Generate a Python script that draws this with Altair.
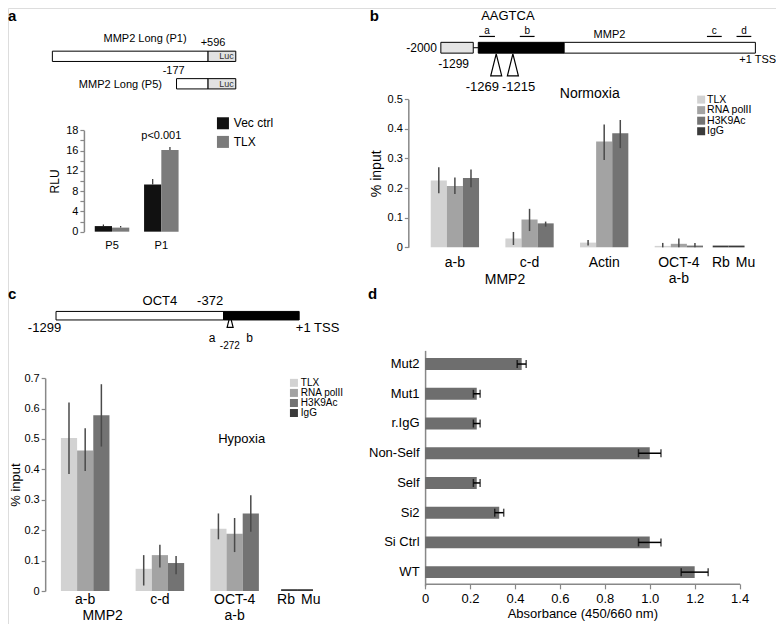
import altair as alt
import pandas as pd

W, H = 768, 616
FONT = "Liberation Sans"


def px(x):
    return (x - 3) * 0.986


def py(y):
    return (y - 3) * 0.981


# ---------------- data ----------------
# panel a: luciferase reporter
a_groups = ["P5", "P1"]
a_series = ["Vec ctrl", "TLX"]
a_vec = [1.1, 9.3]
a_vec_err = [0.3, 1.1]
a_tlx = [0.8, 16.1]
a_tlx_err = [0.3, 0.6]
a_ticks = [0, 2, 4, 6, 8, 10, 12, 14, 16, 18, 20]
a_colors = ["#111111", "#7b7b7b"]
a_constructs = ["P1", "P5"]
a_prom_start = [0.0, 67.7]
a_prom_end = [84.9, 84.9]
a_luc_end = [100.0, 100.0]

# panels b / c: ChIP
chip_series = ["TLX", "RNA polII", "H3K9Ac", "IgG"]
chip_colors = ["#d2d2d2", "#a3a3a3", "#737373", "#3a3a3a"]

b_groups = ["a-b", "c-d", "Actin", "OCT-4 a-b"]
b_tlx = [0.226, 0.030, 0.016, 0.005]
b_tlx_lo = [0.183, 0.008, 0.006, 0.000]
b_tlx_hi = [0.270, 0.052, 0.025, 0.015]
b_rna = [0.207, 0.094, 0.357, 0.012]
b_rna_lo = [0.180, 0.055, 0.295, 0.000]
b_rna_hi = [0.236, 0.130, 0.415, 0.030]
b_h3 = [0.234, 0.081, 0.385, 0.006]
b_h3_lo = [0.203, 0.070, 0.335, 0.000]
b_h3_hi = [0.263, 0.087, 0.430, 0.015]
b_ctrl = ["Rb", "Mu"]
b_igg = [0.006, 0.006]
b_ticks = [0, 0.1, 0.2, 0.3, 0.4, 0.5]
b_segments = ["distal", "core", "proximal"]
b_seg_start = [0.0, 11.9, 39.2]
b_seg_end = [10.3, 39.2, 100.0]
b_seg_fill = ["#e4e4e4", "#000000", "#ffffff"]
b_link = [10.3, 11.9]
b_primers = ["a", "b", "c", "d"]
b_primer_start = [12.2, 25.1, 84.6, 94.0]
b_primer_end = [17.2, 29.8, 89.3, 98.7]
b_sites = ["-1269", "-1215"]
b_site_pos = [17.6, 22.9]

c_groups = ["a-b", "c-d", "OCT-4 a-b"]
c_tlx = [0.503, 0.073, 0.205]
c_tlx_lo = [0.385, 0.018, 0.170]
c_tlx_hi = [0.620, 0.118, 0.255]
c_rna = [0.462, 0.118, 0.188]
c_rna_lo = [0.395, 0.077, 0.128]
c_rna_hi = [0.535, 0.152, 0.240]
c_h3 = [0.578, 0.092, 0.255]
c_h3_lo = [0.475, 0.055, 0.195]
c_h3_hi = [0.680, 0.115, 0.315]
c_ctrl = ["Rb", "Mu"]
c_igg = [0.006, 0.006]
c_ticks = [0, 0.1, 0.2, 0.3, 0.4, 0.5, 0.6, 0.7]
c_segments = ["upstream", "proximal"]
c_seg_start = [0.0, 68.9]
c_seg_end = [68.9, 100.0]
c_seg_fill = ["#ffffff", "#000000"]
c_site_pos = [71.6]

# panel d: absorbance
d_cats = ["Mut2", "Mut1", "r.IgG", "Non-Self", "Self", "Si2", "Si Ctrl", "WT"]
d_vals = [0.43, 0.23, 0.23, 1.00, 0.23, 0.33, 1.00, 1.20]
d_err = [0.02, 0.015, 0.015, 0.05, 0.015, 0.02, 0.05, 0.06]
d_ticks = [0, 0.2, 0.4, 0.6, 0.8, 1.0, 1.2, 1.4]

TRI = "M0,-1L0.5,1L-0.5,1Z"


# ---------------- helpers ----------------
def label(text, x, y, size=12, align="center", weight="normal", baseline="alphabetic", color="black"):
    return alt.Chart(pd.DataFrame({"t": [text]})).mark_text(
        align=align, baseline=baseline, fontSize=size, fontWeight=weight, font=FONT, color=color
    ).encode(x=alt.value(px(x)), y=alt.value(py(y)), text="t:N")


def chip_df(groups, data):
    rows = []
    for s, (v, lo, hi) in data.items():
        for g, vv, l, h in zip(groups, v, lo, hi):
            rows.append({"group": g, "series": s, "value": vv, "lo": l, "hi": h})
    return pd.DataFrame(rows)


def y_axis(axis_x, ticks, title, fmt_expr, label_size=11, title_size=14, title_pad=4):
    return alt.Axis(
        orient="left", offset=-px(axis_x), values=ticks, labelExpr=fmt_expr,
        tickSize=4, tickWidth=1.2, domainWidth=1.5, labelFontSize=label_size, labelPadding=2,
        title=title, titleFontSize=title_size, titleFontWeight="normal", titlePadding=title_pad,
        grid=False, labelFlush=False, labelOverlap=False,
    )


def chip_members(df, groups, ctrl, igg, x_range, pi, po, ctrl_range, y_dom, y_rng,
                 axis_x, ticks, label_y, label_size, line_h=16, title_size=14, title_pad=4,
                 err_color="#4a4a4a"):
    xs = alt.Scale(domain=groups, range=x_range, paddingInner=pi, paddingOuter=po)
    ys = alt.Scale(domain=y_dom, range=y_rng, nice=False)
    xo = alt.XOffset("series:N", sort=chip_series[:3], scale=alt.Scale(domain=chip_series[:3]))
    col = alt.Color("series:N", scale=alt.Scale(domain=chip_series, range=chip_colors), legend=None)
    bars = alt.Chart(df).mark_bar().encode(
        x=alt.X("group:N", sort=groups, scale=xs, axis=None),
        xOffset=xo,
        y=alt.Y("value:Q", scale=ys,
                axis=y_axis(axis_x, ticks, "% input",
                            "datum.value == 0 ? '0' : format(datum.value, '.1f')",
                            title_size=title_size, title_pad=title_pad)),
        color=col,
    )
    labs = alt.Chart(pd.DataFrame({"group": groups})).mark_text(
        lineBreak=" ", fontSize=label_size, font=FONT, baseline="alphabetic", lineHeight=line_h, color="black"
    ).encode(x=alt.X("group:N", sort=groups, scale=xs, axis=None), y=alt.value(py(label_y)), text="group:N")
    errs = alt.Chart(df).mark_rule(color=err_color, strokeWidth=1.5).encode(
        x=alt.X("group:N", sort=groups, scale=xs, axis=None),
        xOffset=xo,
        y=alt.Y("lo:Q", scale=ys, axis=None),
        y2="hi:Q",
    )
    ctrl_df = pd.DataFrame({"group": ctrl, "value": igg})
    ctrl_bars = alt.Chart(ctrl_df).mark_bar(color=chip_colors[3]).encode(
        x=alt.X("group:N", sort=ctrl, scale=alt.Scale(domain=ctrl, range=ctrl_range, paddingInner=0, paddingOuter=0), axis=None),
        y=alt.Y("value:Q", scale=ys, axis=None),
    )
    return [alt.layer(bars, labs), errs, ctrl_bars]


def chip_legend(x_sq, x_txt, r0, r1, sq, size):
    leg = pd.DataFrame({"series": chip_series})
    ly = alt.Y("series:N", sort=chip_series,
               scale=alt.Scale(type="point", domain=chip_series, range=[py(r0), py(r1)], padding=0.5), axis=None)
    squares = alt.Chart(leg).mark_square(size=sq * sq, opacity=1).encode(
        x=alt.value(px(x_sq)), y=ly,
        color=alt.Color("series:N", scale=alt.Scale(domain=chip_series, range=chip_colors), legend=None),
    )
    texts = alt.Chart(leg).mark_text(align="left", baseline="middle", fontSize=size, font=FONT, color="black").encode(
        x=alt.value(px(x_txt)), y=ly, text="series:N"
    )
    return alt.layer(squares, texts)


members = []

# ---------------- panel a ----------------
a_df = pd.DataFrame({
    "group": a_groups * 2,
    "series": [a_series[0]] * 2 + [a_series[1]] * 2,
    "value": a_vec + a_tlx,
    "err": a_vec_err + a_tlx_err,
})
a_df["hi"] = a_df["value"] + a_df["err"]
a_xs = alt.Scale(domain=a_groups, range=[px(83.5), px(183.5)], paddingInner=0.3, paddingOuter=0.15)
a_ys = alt.Scale(domain=[0, 20], range=[py(231), py(127.6)], nice=False)
a_xo = alt.XOffset("series:N", sort=a_series, scale=alt.Scale(domain=a_series))
a_bars = alt.Chart(a_df).mark_bar().encode(
    x=alt.X("group:N", sort=a_groups, scale=a_xs, axis=None),
    xOffset=a_xo,
    y=alt.Y("value:Q", scale=a_ys,
            axis=y_axis(80, a_ticks, "RLU",
                        "datum.value == 20 ? '18' : (datum.value % 4 == 0 ? datum.label : '')",
                        label_size=11, title_size=12)),
    color=alt.Color("series:N", scale=alt.Scale(domain=a_series, range=a_colors), legend=None),
)
a_labs = alt.Chart(pd.DataFrame({"group": a_groups})).mark_text(fontSize=11, font=FONT, color="black").encode(
    x=alt.X("group:N", sort=a_groups, scale=a_xs, axis=None), y=alt.value(py(246)), text="group:N")
a_note = alt.Chart(pd.DataFrame({"group": ["P1"], "note": ["p<0.001"]})).mark_text(fontSize=11, font=FONT, color="black").encode(
    x=alt.X("group:N", sort=a_groups, scale=a_xs, axis=None), y=alt.value(py(133)), text="note:N")
members.append(alt.layer(a_bars, a_labs, a_note))
members.append(alt.Chart(a_df).mark_rule(color="#333333", strokeWidth=1.2).encode(
    x=alt.X("group:N", sort=a_groups, scale=a_xs, axis=None),
    xOffset=a_xo,
    y=alt.Y("value:Q", scale=a_ys, axis=None),
    y2="hi:Q",
))
# legend a
a_leg = pd.DataFrame({"series": a_series})
a_ly = alt.Y("series:N", sort=a_series, scale=alt.Scale(type="point", domain=a_series, range=[py(111), py(149)], padding=0.5), axis=None)
members.append(alt.layer(
    alt.Chart(a_leg).mark_square(size=144, opacity=1).encode(
        x=alt.value(px(221)), y=a_ly,
        color=alt.Color("series:N", scale=alt.Scale(domain=a_series, range=a_colors), legend=None)),
    alt.Chart(a_leg).mark_text(align="left", baseline="middle", fontSize=12, font=FONT, color="black").encode(
        x=alt.value(px(232)), y=a_ly, text="series:N"),
))
# schematic a
a_sx = alt.Scale(domain=[0, 100], range=[px(48), px(234)], nice=False)
a_sy = alt.Scale(domain=a_constructs, range=[py(47), py(85.5)], paddingInner=0.625, paddingOuter=0)
a_cons = pd.DataFrame({"construct": a_constructs, "start": a_prom_start, "mid": a_prom_end, "end": a_luc_end})
members.append(alt.layer(
    alt.Chart(a_cons).mark_rect(fill="white", stroke="black", strokeWidth=1).encode(
        x=alt.X("start:Q", scale=a_sx, axis=None), x2="mid:Q",
        y=alt.Y("construct:N", sort=a_constructs, scale=a_sy, axis=None)),
    alt.Chart(a_cons).mark_rect(fill="#e2e2e2", stroke="black", strokeWidth=1).encode(
        x=alt.X("mid:Q", scale=a_sx, axis=None), x2="end:Q",
        y=alt.Y("construct:N", sort=a_constructs, scale=a_sy, axis=None)),
    alt.Chart(a_cons.assign(t="Luc")).mark_text(align="right", baseline="middle", fontSize=9, font=FONT, color="#333333", dx=-2).encode(
        x=alt.X("end:Q", scale=a_sx, axis=None),
        y=alt.Y("construct:N", sort=a_constructs, scale=a_sy, axis=None), text="t:N"),
))
members += [
    label("a", 3, 16, size=15, align="left", weight="bold"),
    label("MMP2 Long (P1)", 142, 38, size=11),
    label("+596", 211, 42, size=11),
    label("-177", 171, 70, size=11),
    label("MMP2 Long (P5)", 117, 85, size=11),
]

# ---------------- panel b ----------------
b_df = chip_df(b_groups, {
    "TLX": (b_tlx, b_tlx_lo, b_tlx_hi),
    "RNA polII": (b_rna, b_rna_lo, b_rna_hi),
    "H3K9Ac": (b_h3, b_h3_lo, b_h3_hi),
})
members += chip_members(b_df, b_groups, b_ctrl, b_igg, [px(416.6), px(723)], 0.353, 0.2,
                        [px(717.7), px(750)], [0, 0.5], [py(247), py(96)], 409, b_ticks, 267, 14)
members.append(chip_legend(706, 712, 91, 134, 8, 10.5))

b_sx = alt.Scale(domain=[0, 100], range=[px(442), px(761)], nice=False)
b_seg = pd.DataFrame({"seg": b_segments, "start": b_seg_start, "end": b_seg_end})
b_pr = pd.DataFrame({"primer": b_primers, "start": b_primer_start, "end": b_primer_end})
members.append(alt.layer(
    alt.Chart(pd.DataFrame({"start": [b_link[0]], "end": [b_link[1]]})).mark_rule(color="black", strokeWidth=1).encode(
        x=alt.X("start:Q", scale=b_sx, axis=None), x2="end:Q", y=alt.value(py(43.5))),
    alt.Chart(b_seg).mark_rect(stroke="black", strokeWidth=1).encode(
        x=alt.X("start:Q", scale=b_sx, axis=None), x2="end:Q",
        y=alt.value(py(38)), y2=alt.value(py(49)),
        fill=alt.Fill("seg:N", scale=alt.Scale(domain=b_segments, range=b_seg_fill), legend=None)),
    alt.Chart(b_pr).mark_rule(color="black", strokeWidth=1.2).encode(
        x=alt.X("start:Q", scale=b_sx, axis=None), x2="end:Q", y=alt.value(py(32))),
    alt.Chart(b_pr).transform_calculate(mid="(datum.start + datum.end) / 2").mark_text(
        fontSize=10, font=FONT, color="black", baseline="alphabetic").encode(
        x=alt.X("mid:Q", scale=b_sx, axis=None), y=alt.value(py(30)), text="primer:N"),
    alt.Chart(pd.DataFrame({"site": b_sites, "pos": b_site_pos})).mark_point(
        shape=TRI, size=484, filled=False, color="black", strokeWidth=1.2, opacity=1).encode(
        x=alt.X("pos:Q", scale=b_sx, axis=None), y=alt.value(py(61))),
))
members += [
    label("b", 370, 16, size=15, align="left", weight="bold"),
    label("AAGTCA", 510, 15, size=13),
    label("MMP2", 613, 34, size=11),
    label("-2000", 438, 48, size=12, align="right"),
    label("-1299", 455, 64, size=12),
    label("-1269", 501, 88, size=13, align="right"),
    label("-1215", 504, 88, size=13, align="left"),
    label("+1 TSS", 782, 59, size=11, align="right"),
    label("Normoxia", 593, 95, size=14),
    label("MMP2", 507, 284, size=14),
    label("Rb", 726, 267, size=14),
    label("Mu", 751, 267, size=14),
]

# ---------------- panel c ----------------
c_df = chip_df(c_groups, {
    "TLX": (c_tlx, c_tlx_lo, c_tlx_hi),
    "RNA polII": (c_rna, c_rna_lo, c_rna_hi),
    "H3K9Ac": (c_h3, c_h3_lo, c_h3_hi),
})
members += chip_members(c_df, c_groups, c_ctrl, c_igg, [px(41.5), px(272.6)], 0.35, 0.2,
                        [px(280), px(312.3)], [0, 0.7], [py(597.3), py(380.3)], 40.7, c_ticks, 611, 14,
                        line_h=15.5, title_size=13, title_pad=1)
members.append(chip_legend(293, 300, 380, 421, 8, 10))

c_sx = alt.Scale(domain=[0, 100], range=[px(51.7), px(298.3)], nice=False)
c_seg = pd.DataFrame({"seg": c_segments, "start": c_seg_start, "end": c_seg_end})
members.append(alt.layer(
    alt.Chart(c_seg).mark_rect(stroke="black", strokeWidth=1).encode(
        x=alt.X("start:Q", scale=c_sx, axis=None), x2="end:Q",
        y=alt.value(py(312.3)), y2=alt.value(py(321)),
        fill=alt.Fill("seg:N", scale=alt.Scale(domain=c_segments, range=c_seg_fill), legend=None)),
    alt.Chart(pd.DataFrame({"pos": c_site_pos})).mark_point(
        shape=TRI, size=144, filled=False, color="black", strokeWidth=1.2, opacity=1).encode(
        x=alt.X("pos:Q", scale=c_sx, axis=None), y=alt.value(py(322.5))),
))
members += [
    label("c", 3, 300, size=15, align="left", weight="bold"),
    label("OCT4", 157, 306, size=13),
    label("-372", 208, 306, size=13),
    label("-1299", 40, 333, size=13),
    label("+1 TSS", 317, 333, size=13),
    label("a", 210, 343, size=12),
    label("-272", 228, 351, size=10),
    label("b", 248, 343, size=12),
    label("Hypoxia", 240, 446, size=13),
    label("MMP2", 99, 626.5, size=14),
    label("Rb", 285, 611, size=14),
    label("Mu", 310, 611, size=14),
]

# ---------------- panel d ----------------
d_df = pd.DataFrame({"cat": d_cats, "value": d_vals, "err": d_err})
d_df["lo"] = d_df["value"] - d_df["err"]
d_df["hi"] = d_df["value"] + d_df["err"]
d_xs = alt.Scale(domain=[0, 1.4], range=[px(426), px(745)], nice=False)
d_ys = alt.Scale(domain=d_cats, range=[py(352), py(592)], paddingInner=0.6, paddingOuter=0.26)
members.append(alt.Chart(d_df).mark_bar(color="#6e6e6e").encode(
    x=alt.X("value:Q", scale=d_xs, axis=alt.Axis(
        orient="bottom", offset=py(590) - H, values=d_ticks,
        labelExpr="datum.value == 0 ? '0' : format(datum.value, '.1f')",
        tickSize=5, tickWidth=1.2, domainWidth=1.5, labelFontSize=13, labelPadding=4,
        title="Absorbance (450/660 nm)", titleFontSize=13, titleFontWeight="normal", titlePadding=2,
        grid=False, labelFlush=False, labelOverlap=False)),
    y=alt.Y("cat:N", sort=d_cats, scale=d_ys, axis=alt.Axis(
        orient="left", offset=-px(426), ticks=False, domainWidth=1.5, labelFontSize=13,
        labelPadding=6, title=None, grid=False)),
))
members.append(alt.layer(
    alt.Chart(d_df).mark_rule(color="black", strokeWidth=1.5).encode(
        x=alt.X("lo:Q", scale=d_xs, axis=None), x2="hi:Q",
        y=alt.Y("cat:N", sort=d_cats, scale=d_ys, axis=None)),
    alt.Chart(d_df).mark_tick(color="black", size=8, thickness=1.5).encode(
        x=alt.X("lo:Q", scale=d_xs, axis=None),
        y=alt.Y("cat:N", sort=d_cats, scale=d_ys, axis=None)),
    alt.Chart(d_df).mark_tick(color="black", size=8, thickness=1.5).encode(
        x=alt.X("hi:Q", scale=d_xs, axis=None),
        y=alt.Y("cat:N", sort=d_cats, scale=d_ys, axis=None)),
))
members.append(label("d", 368, 300, size=15, align="left", weight="bold"))

chart = alt.layer(*members).resolve_scale(
    x="independent", y="independent", color="independent", fill="independent", xOffset="independent"
).properties(
    width=W, height=H, autosize=alt.AutoSizeParams(type="none"), padding=0
).configure_view(stroke=None).configure_axis(
    labelFont=FONT, titleFont=FONT, labelColor="black", titleColor="black",
    domainColor="black", tickColor="black"
).configure(background="white")

chart.save("out.html", embed_options={"renderer": "svg", "actions": False})
